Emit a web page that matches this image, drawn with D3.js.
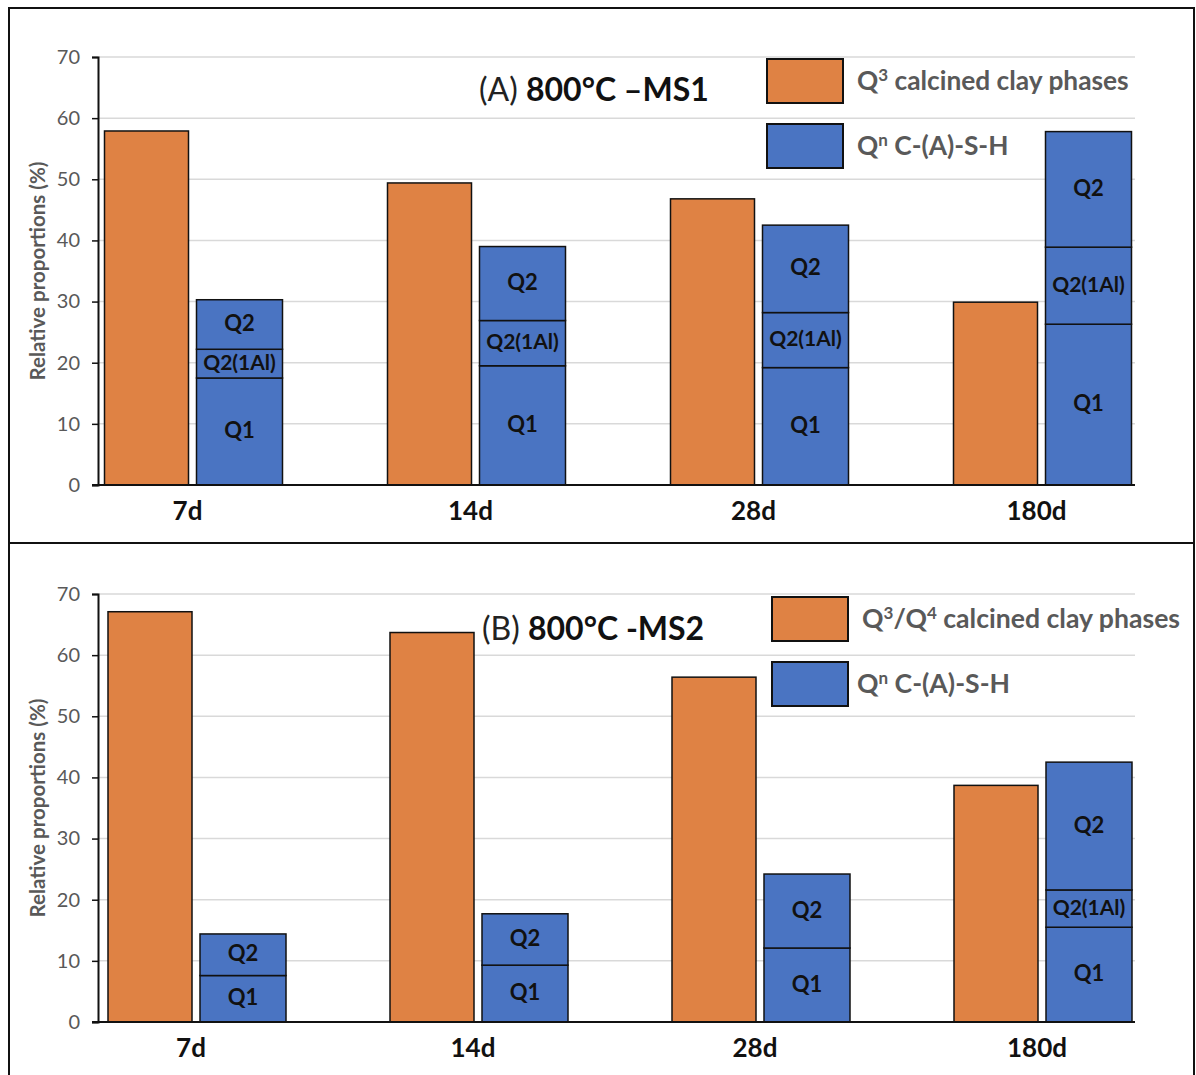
<!DOCTYPE html>
<html>
<head>
<meta charset="utf-8">
<script src="https://cdn.jsdelivr.net/npm/d3@7"></script>
<style>
  body { margin: 0; background: #fff; }
  text { font-family: Lato, "Open Sans", sans-serif; }
</style>
</head>
<body>
<svg id="svg"></svg>
<script>
////////////////////////////////////////////////////////////////////////
// Data (relative proportions, %)

let days = ["7d", "14d", "28d", "180d"];
let yTicks = [0, 10, 20, 30, 40, 50, 60, 70];

// panel (A) 800°C -MS1
let clayMS1 = [57.9, 49.4, 46.8, 29.9];
let q1MS1   = [17.5, 19.5, 19.2, 26.3];
let q2AlMS1 = [4.7, 7.4, 9.0, 12.6];
let q2MS1   = [8.1, 12.1, 14.3, 18.9];

// panel (B) 800°C -MS2
let clayMS2 = [67.1, 63.7, 56.4, 38.7];
let q1MS2   = [7.6, 9.3, 12.1, 15.5];
let q2AlMS2 = [0, 0, 0, 6.1];
let q2MS2   = [6.8, 8.4, 12.1, 20.9];

let segNames = ["Q1", "Q2(1Al)", "Q2"];

////////////////////////////////////////////////////////////////////////
// Layout

let winWidth = 1196;
let winHeight = 1075;
let orange = "#df8244";
let blue = "#4a74c2";
let grey = "#595959";

let svg = d3.select("#svg")
            .attr("width", winWidth)
            .attr("height", winHeight);

// panel frames
svg.append("rect").attr("x", 9).attr("y", 8).attr("width", 1185).attr("height", 535)
   .attr("fill", "none").attr("stroke", "#111").attr("stroke-width", 2);
svg.append("rect").attr("x", 9).attr("y", 543).attr("width", 1185).attr("height", 540)
   .attr("fill", "none").attr("stroke", "#111").attr("stroke-width", 2);

let panels = [
  { top: 57, bottom: 485, xr: [52, 1184], clay: clayMS1, q1: q1MS1, q2Al: q2AlMS1, q2: q2MS1,
    tag: "(A) ", title: "800°C –MS1", titleX: 479, titleY: 101,
    legY: 59, clayLabel: ["Q", "3", " calcined clay phases"], legTextX: 857, legSize: 26.3 },
  { top: 594, bottom: 1022, xr: [56, 1184], clay: clayMS2, q1: q1MS2, q2Al: q2AlMS2, q2: q2MS2,
    tag: "(B) ", title: "800°C -MS2", titleX: 482, titleY: 640,
    legY: 597, clayLabel: ["Q", "3", "/Q", "4", " calcined clay phases"], legTextX: 862, legSize: 26.6 }
];

function drawPanel(p)
{
  let g = svg.append("g");

  let x = d3.scaleBand().domain(days).range(p.xr);
  let y = d3.scaleLinear().domain([0, 70]).range([p.bottom, p.top]);

  // gridlines
  g.selectAll("line.grid")
   .data(yTicks.slice(1))
   .enter().append("line")
   .attr("x1", 98).attr("x2", 1135)
   .attr("y1", function(d) { return y(d); })
   .attr("y2", function(d) { return y(d); })
   .attr("stroke", "#d9d9d9").attr("stroke-width", 1.5);

  // y axis
  let yAxis = g.append("g")
               .attr("transform", "translate(98,0)")
               .call(d3.axisLeft(y).tickValues(yTicks).tickSize(6).tickPadding(12));
  yAxis.select(".domain").attr("stroke", "#111").attr("stroke-width", 2);
  yAxis.selectAll(".tick line").attr("stroke", "#111").attr("stroke-width", 1.5);
  yAxis.selectAll(".tick text")
       .attr("fill", grey).attr("font-size", 20)
       .style("font-family", "Lato, sans-serif");

  g.append("text")
   .attr("transform", "translate(45," + ((p.top + p.bottom) / 2) + ") rotate(-90)")
   .attr("text-anchor", "middle")
   .attr("font-size", 20.5).attr("font-weight", "bold").attr("fill", grey)
   .text("Relative proportions (%)");

  // orange bars
  g.selectAll("rect.clay")
   .data(days)
   .enter().append("rect")
   .attr("x", function(d) { return x(d) + x.bandwidth() / 2 - 89; })
   .attr("width", 84)
   .attr("y", function(d, i) { return y(p.clay[i]); })
   .attr("height", function(d, i) { return y(0) - y(p.clay[i]); })
   .attr("fill", orange).attr("stroke", "#111").attr("stroke-width", 1.5);

  // stacked blue bars
  let stacks = [];
  for (let i=0; i<days.length; ++i) {
    let vals = [p.q1[i], p.q2Al[i], p.q2[i]];
    let base = 0;
    for (let k=0; k<vals.length; ++k) {
      if (vals[k] > 0) {
        stacks.push({ day: days[i], name: segNames[k], y0: base, y1: base + vals[k] });
      }
      base += vals[k];
    }
  }

  let segs = g.selectAll("g.seg")
              .data(stacks)
              .enter().append("g");

  segs.append("rect")
      .attr("x", function(s) { return x(s.day) + x.bandwidth() / 2 + 3; })
      .attr("width", 86)
      .attr("y", function(s) { return y(s.y1); })
      .attr("height", function(s) { return y(s.y0) - y(s.y1); })
      .attr("fill", blue).attr("stroke", "#111").attr("stroke-width", 1.5);

  segs.append("text")
      .attr("x", function(s) { return x(s.day) + x.bandwidth() / 2 + 46; })
      .attr("y", function(s) { return (y(s.y0) + y(s.y1)) / 2; })
      .attr("dy", "0.3em")
      .attr("text-anchor", "middle")
      .attr("font-size", function(s) { return s.name == "Q2(1Al)" ? 21 : 22; })
      .attr("font-weight", "bold").attr("fill", "#111")
      .text(function(s) { return s.name; });

  // x axis line
  g.append("line")
   .attr("x1", 92).attr("x2", 1135)
   .attr("y1", y(0)).attr("y2", y(0))
   .attr("stroke", "#111").attr("stroke-width", 2);

  // category labels
  g.selectAll("text.day")
   .data(days)
   .enter().append("text")
   .attr("x", function(d) { return x(d) + x.bandwidth() / 2 - 6; })
   .attr("y", p.bottom + 35)
   .attr("text-anchor", "middle")
   .attr("font-size", 26).attr("font-weight", "bold").attr("fill", "#111")
   .text(function(d) { return d; });

  // title
  let t = g.append("text")
           .attr("x", p.titleX).attr("y", p.titleY)
           .attr("font-size", 32).attr("fill", "#222");
  t.append("tspan").text(p.tag);
  t.append("tspan").attr("font-weight", "bold").attr("fill", "#111").text(p.title);

  // legend
  let leg = [
    { color: orange, parts: p.clayLabel, y: p.legY },
    { color: blue, parts: ["Q", "n", " C-(A)-S-H"], y: p.legY + 65 }
  ];
  leg.forEach(function(l) {
    g.append("rect")
     .attr("x", p.legTextX - 90).attr("y", l.y)
     .attr("width", 76).attr("height", 44)
     .attr("fill", l.color).attr("stroke", "#111").attr("stroke-width", 2);
    let lt = g.append("text")
              .attr("x", l === leg[0] ? p.legTextX : 857).attr("y", l.y + 31)
              .attr("font-size", p.legSize).attr("font-weight", "bold").attr("fill", grey);
    l.parts.forEach(function(part, j) {
      let sp = lt.append("tspan").text(part);
      if (j % 2 == 1) {
        sp.attr("font-size", 17).attr("dy", -9);
      } else if (j > 0) {
        sp.attr("dy", 9);
      }
    });
  });
}

panels.forEach(drawPanel);
</script>
</body>
</html>
